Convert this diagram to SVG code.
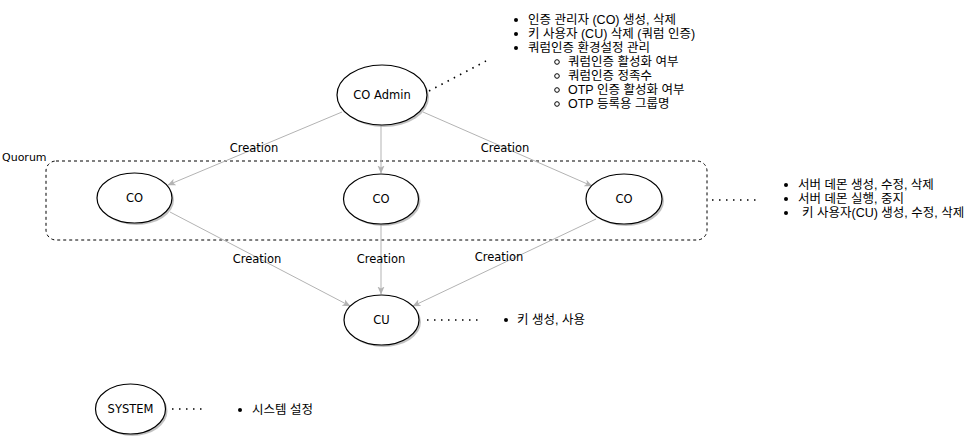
<svg xmlns="http://www.w3.org/2000/svg" width="977" height="438" viewBox="0 0 977 438">
<style>
.node{fill:#fff;stroke:#000;stroke-width:1.2}
.shadow{fill:#999;opacity:0.6}
.lbl{font-family:"DejaVu Sans","Liberation Sans",sans-serif;font-size:11.5px;fill:#000;text-anchor:middle;dominant-baseline:central}
.edge{stroke:#b3b3b3;stroke-width:1;fill:none}
.dots{stroke:#000;stroke-width:1.6;stroke-dasharray:1.5 5.5;fill:none}
.txt{font-family:"Liberation Sans","Noto Sans CJK KR",sans-serif;font-size:12.5px;fill:#000;dominant-baseline:central}
.q{font-family:"DejaVu Sans","Liberation Sans",sans-serif;font-size:11px;fill:#000;dominant-baseline:central}
</style>
<defs>
<marker id="arr" viewBox="0 0 8 8" refX="7.5" refY="4" markerWidth="8" markerHeight="8" markerUnits="userSpaceOnUse" orient="auto">
<path d="M0,0.5 L8,4 L0,7.5 L2,4 z" fill="#b3b3b3"/>
</marker>
</defs>
<rect id="quorum" x="46" y="161" width="661" height="79" rx="10" fill="none" stroke="#000" stroke-width="1" stroke-dasharray="3 3"/>
<text class="q" x="2" y="157">Quorum</text>
<g id="connectors">
<line class="edge" x1="342" y1="112" x2="168" y2="185" marker-end="url(#arr)"/>
<line class="edge" x1="381" y1="125" x2="381" y2="173" marker-end="url(#arr)"/>
<line class="edge" x1="423" y1="112" x2="592" y2="186" marker-end="url(#arr)"/>
<line class="edge" x1="170" y1="212" x2="350" y2="306" marker-end="url(#arr)"/>
<line class="edge" x1="381" y1="224" x2="381" y2="294" marker-end="url(#arr)"/>
<line class="edge" x1="596" y1="219" x2="413" y2="306" marker-end="url(#arr)"/>
<text class="lbl" x="254" y="148">Creation</text>
<text class="lbl" x="505" y="148">Creation</text>
<text class="lbl" x="257" y="259">Creation</text>
<text class="lbl" x="381" y="259">Creation</text>
<text class="lbl" x="499" y="257">Creation</text>
<line class="dots" x1="429" y1="91" x2="486" y2="61"/>
<line class="dots" x1="712" y1="200" x2="758" y2="200"/>
<line class="dots" x1="427" y1="320" x2="478" y2="320"/>
<line class="dots" x1="172" y1="409" x2="205" y2="409"/>
</g>
<g id="co-admin">
<ellipse class="shadow" cx="384" cy="97" rx="45" ry="30"/>
<ellipse class="node" cx="382" cy="95" rx="45" ry="30"/>
<text class="lbl" x="382" y="95">CO Admin</text>
</g>
<g id="co-left">
<ellipse class="shadow" cx="136.5" cy="200" rx="37.5" ry="25"/>
<ellipse class="node" cx="134.5" cy="198" rx="37.5" ry="25"/>
<text class="lbl" x="134.5" y="198">CO</text>
</g>
<g id="co-mid">
<ellipse class="shadow" cx="383" cy="201" rx="37.5" ry="25"/>
<ellipse class="node" cx="381" cy="199" rx="37.5" ry="25"/>
<text class="lbl" x="381" y="199">CO</text>
</g>
<g id="co-right">
<ellipse class="shadow" cx="626" cy="201" rx="38" ry="25"/>
<ellipse class="node" cx="624" cy="199" rx="38" ry="25"/>
<text class="lbl" x="624" y="199">CO</text>
</g>
<g id="cu">
<ellipse class="shadow" cx="383.5" cy="322" rx="37.5" ry="25"/>
<ellipse class="node" cx="381.5" cy="320" rx="37.5" ry="25"/>
<text class="lbl" x="381.5" y="320">CU</text>
</g>
<g id="system">
<ellipse class="shadow" cx="132.5" cy="411" rx="35" ry="25"/>
<ellipse class="node" cx="130.5" cy="409" rx="35" ry="25"/>
<text class="lbl" x="130.5" y="409">SYSTEM</text>
</g>
<g id="admin-notes">
<circle cx="516" cy="20" r="2"/><text class="txt" x="528" y="20">인증 관리자 (CO) 생성, 삭제</text>
<circle cx="516" cy="34" r="2"/><text class="txt" x="528" y="34">키 사용자 (CU) 삭제 (쿼럼 인증)</text>
<circle cx="516" cy="48" r="2"/><text class="txt" x="528" y="48">쿼럼인증 환경설정 관리</text>
<circle cx="557" cy="62" r="2.3" fill="none" stroke="#000" stroke-width="1"/><text class="txt" x="568" y="62">쿼럼인증 활성화 여부</text>
<circle cx="557" cy="76" r="2.3" fill="none" stroke="#000" stroke-width="1"/><text class="txt" x="568" y="76">쿼럼인증 정족수</text>
<circle cx="557" cy="90" r="2.3" fill="none" stroke="#000" stroke-width="1"/><text class="txt" x="568" y="90">OTP 인증 활성화 여부</text>
<circle cx="557" cy="104" r="2.3" fill="none" stroke="#000" stroke-width="1"/><text class="txt" x="568" y="104">OTP 등록용 그룹명</text>
</g>
<g id="co-notes">
<circle cx="786" cy="185" r="2"/><text class="txt" x="798" y="185">서버 데몬 생성, 수정, 삭제</text>
<circle cx="786" cy="199" r="2"/><text class="txt" x="798" y="199">서버 데몬 실행, 중지</text>
<circle cx="786" cy="213" r="2"/><text class="txt" x="802" y="213">키 사용자(CU) 생성, 수정, 삭제</text>
</g>
<g id="cu-notes">
<circle cx="506" cy="320" r="2"/><text class="txt" x="517" y="320">키 생성, 사용</text>
</g>
<g id="system-notes">
<circle cx="240" cy="410" r="2"/><text class="txt" x="252" y="410">시스템 설정</text>
</g>
</svg>
